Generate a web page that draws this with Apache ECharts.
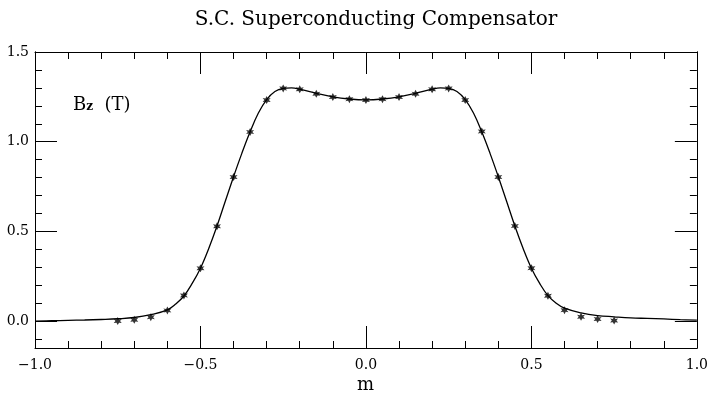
<!DOCTYPE html>
<html>
<head>
<meta charset="utf-8">
<script src="https://cdn.jsdelivr.net/npm/echarts@6/dist/echarts.min.js"></script>
<style>
  html, body { margin: 0; padding: 0; background: #fff; }
  #chart { width: 711px; height: 395px; }
</style>
</head>
<body>
<div id="chart"></div>
<script>
// fitted field curve
const curveX = [-1.0, -0.95, -0.9, -0.85, -0.8, -0.75, -0.7, -0.65, -0.6, -0.575, -0.55, -0.525, -0.5, -0.475, -0.45, -0.425, -0.4, -0.375, -0.35, -0.325, -0.3, -0.275, -0.25, -0.225, -0.2, -0.15, -0.1, -0.05, 0,
  0.05, 0.1, 0.15, 0.2, 0.225, 0.25, 0.275, 0.3, 0.325, 0.35, 0.375, 0.4, 0.425, 0.45, 0.475, 0.5, 0.525, 0.55, 0.575, 0.6, 0.65, 0.7, 0.75, 0.8, 0.85, 0.9, 0.95, 1.0];
const curveY = [0.0, 0.002, 0.004, 0.006, 0.009, 0.013, 0.02, 0.036, 0.063, 0.095, 0.14, 0.21, 0.295, 0.405, 0.53, 0.668, 0.805, 0.935, 1.055, 1.16, 1.235, 1.28, 1.297, 1.3, 1.293, 1.27, 1.25, 1.238, 1.233,
  1.238, 1.25, 1.27, 1.293, 1.3, 1.297, 1.28, 1.235, 1.16, 1.055, 0.935, 0.805, 0.668, 0.53, 0.405, 0.295, 0.21, 0.142, 0.1, 0.072, 0.046, 0.031, 0.024, 0.018, 0.015, 0.012, 0.008, 0.005];

// measured points
const pointX = [-0.75, -0.7, -0.65, -0.6, -0.55, -0.5, -0.45, -0.4, -0.35, -0.3, -0.25, -0.2, -0.15, -0.1, -0.05, 0,
  0.05, 0.1, 0.15, 0.2, 0.25, 0.3, 0.35, 0.4, 0.45, 0.5, 0.55, 0.6, 0.65, 0.7, 0.75];
const pointY = [0.0, 0.007, 0.022, 0.059, 0.143, 0.294, 0.528, 0.803, 1.054, 1.232, 1.297, 1.292, 1.267, 1.249, 1.237, 1.232,
  1.237, 1.249, 1.267, 1.292, 1.297, 1.232, 1.057, 0.803, 0.53, 0.295, 0.141, 0.061, 0.024, 0.011, 0.003];

// tick positions on y
const yMajorTicks = [0, 0.5, 1.0, 1.5];
const yMinorTicks = [-0.1, 0.1, 0.2, 0.3, 0.4, 0.6, 0.7, 0.8, 0.9, 1.1, 1.2, 1.3, 1.4];

const chart = echarts.init(document.getElementById("chart"));

const fmt = (v) => v.toFixed(1).replace("-", "\u2212");
const labelFont = { color: "#000", fontFamily: "DejaVu Serif", fontSize: 14 };
const lineStyle = { color: "#000", width: 1 };

const xBase = (pos, showLabel) => ({
  type: "value",
  position: pos,
  min: -1,
  max: 1,
  interval: 0.5,
  axisLine: { show: true, onZero: false, lineStyle },
  axisTick: { show: true, inside: true, length: 22, lineStyle },
  minorTick: { show: true, splitNumber: 5, length: 7, lineStyle },
  splitLine: { show: false },
  axisLabel: Object.assign({ show: showLabel, margin: 10, formatter: fmt }, labelFont),
});

const yBase = (pos, ticks, len, showLabel) => ({
  type: "value",
  position: pos,
  min: -0.15,
  max: 1.5,
  axisLine: { show: true, onZero: false, lineStyle },
  axisTick: { show: true, inside: true, length: len, customValues: ticks, lineStyle },
  splitLine: { show: false },
  axisLabel: Object.assign({ show: showLabel, margin: 6, customValues: ticks, formatter: fmt }, labelFont),
});

const starPath = "path://M0,-10 L2.8,-4 L8.7,-5 L5,0 L8.7,5 L2.8,4 L0,10 L-2.8,4 L-8.7,5 L-5,0 L-8.7,-5 L-2.8,-4 Z";

const option = {
  animation: false,
  backgroundColor: "#fff",
  title: {
    text: "S.C. Superconducting Compensator",
    left: 371,
    top: 5,
    textAlign: "center",
    textStyle: { color: "#000", fontFamily: "DejaVu Serif", fontWeight: "normal", fontSize: 20 },
  },
  graphic: [
    {
      type: "text",
      left: 73,
      top: 96,
      style: {
        text: "{b|B}{s|z}{b|  (T)}",
        rich: {
          b: { fontFamily: "DejaVu Serif", fontSize: 18, fill: "#000", verticalAlign: "bottom", height: 20 },
          s: { fontFamily: "DejaVu Serif", fontSize: 12, fontWeight: "bold", fill: "#000", verticalAlign: "bottom", height: 17 },
        },
      },
    },
    {
      type: "text",
      left: 357,
      top: 376,
      style: { text: "m", fontFamily: "DejaVu Serif", fontSize: 18, fill: "#000" },
    },
  ],
  grid: { left: 35, right: 12, top: 52, bottom: 47 },
  xAxis: [xBase("bottom", true), xBase("top", false)],
  yAxis: [
    yBase("left", yMajorTicks, 22, true),
    yBase("left", yMinorTicks, 7, false),
    yBase("right", yMajorTicks, 22, false),
    yBase("right", yMinorTicks, 7, false),
  ],
  series: [
    {
      type: "line",
      data: curveX.map((x, i) => [x, curveY[i]]),
      smooth: 0.4,
      showSymbol: false,
      lineStyle: { color: "#000", width: 1.3 },
      z: 2,
    },
    {
      type: "scatter",
      data: pointX.map((x, i) => [x, pointY[i]]),
      symbol: starPath,
      symbolSize: 8,
      itemStyle: { color: "#000" },
      z: 3,
    },
  ],
};

chart.setOption(option);
</script>
</body>
</html>
